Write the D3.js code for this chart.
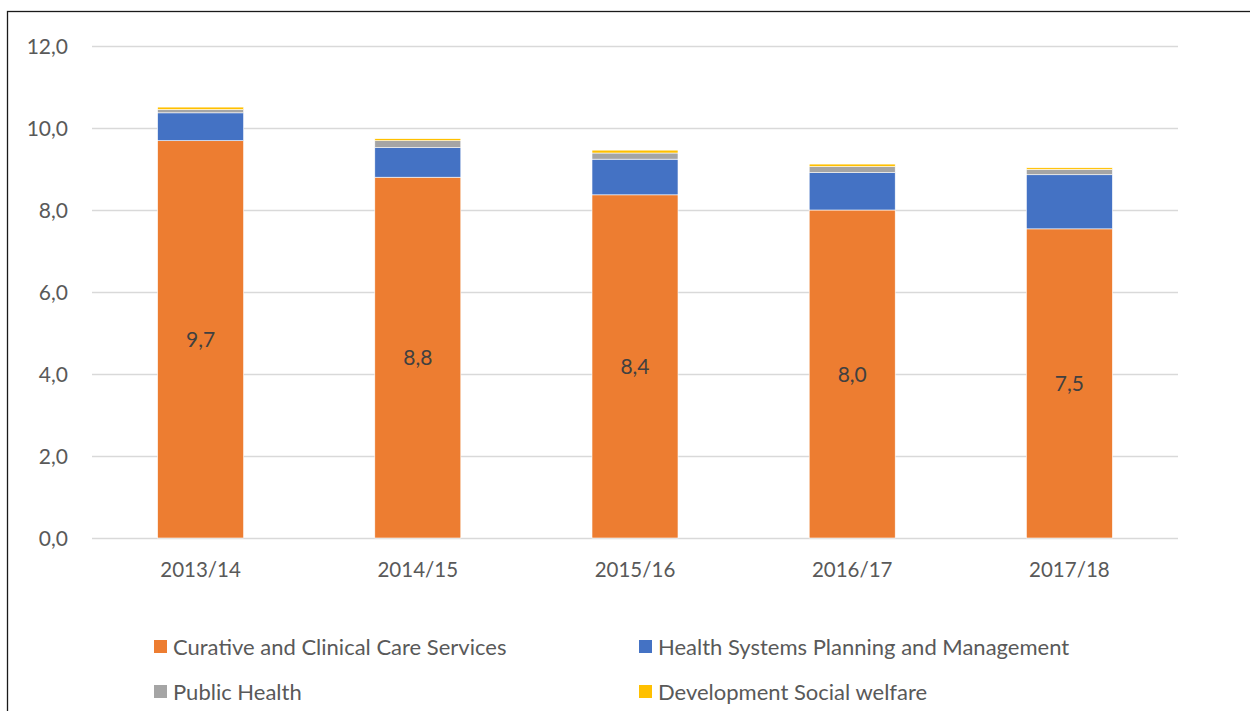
<!DOCTYPE html>
<html>
<head>
<meta charset="utf-8">
<script src="https://cdn.jsdelivr.net/npm/d3@7"></script>
<style>
  body { margin: 0; background: #fff; }
  svg text { font-family: Lato, 'Open Sans', sans-serif; }
</style>
</head>
<body>
<script>
// chart values
let years = ['2013/14', '2014/15', '2015/16', '2016/17', '2017/18']
let seriesNames = ['Curative and Clinical Care Services', 'Health Systems Planning and Management',
                   'Public Health', 'Development Social welfare']
let curative = [9.69, 8.80, 8.37, 8.00, 7.54]
let planning = [0.68, 0.72, 0.87, 0.91, 1.32]
let publicHealth = [0.08, 0.17, 0.15, 0.15, 0.13]
let welfare = [0.06, 0.05, 0.07, 0.06, 0.04]
let yTicks = [0, 2, 4, 6, 8, 10, 12]

let colors = ['#ED7D31', '#4472C4', '#A5A5A5', '#FFC000']

let margin = { top: 46, left: 92, right: 72, bottom: 173 }
let W = 1250, H = 711

let fmt = d3.formatLocale({ decimal: ',', thousands: '.', grouping: [3], currency: ['', ''] }).format('.1f')

let rows = years.map((y, i) => ({
    year: y,
    [seriesNames[0]]: curative[i],
    [seriesNames[1]]: planning[i],
    [seriesNames[2]]: publicHealth[i],
    [seriesNames[3]]: welfare[i]
}))

let stack = d3.stack().keys(seriesNames)(rows)

let x = d3.scaleBand()
    .domain(years)
    .range([margin.left, W - margin.right])
    .paddingInner(0.604)
    .paddingOuter(0.302)

let y = d3.scaleLinear()
    .domain([0, 12])
    .range([H - margin.bottom, margin.top])

let svg = d3.select('body').append('svg')
    .attr('width', W)
    .attr('height', H)

// chart frame (runs off the right and bottom of the picture)
svg.append('rect')
    .attr('x', 7.5).attr('y', 11.5)
    .attr('width', W + 20).attr('height', H + 20)
    .attr('fill', 'none')
    .attr('stroke', '#1a1a1a')
    .attr('stroke-width', 1.3)

// gridlines
svg.append('g')
    .selectAll('line')
    .data(yTicks)
    .enter().append('line')
    .attr('x1', margin.left).attr('x2', W - margin.right)
    .attr('y1', d => Math.round(y(d)) + 0.5).attr('y2', d => Math.round(y(d)) + 0.5)
    .attr('stroke', '#D9D9D9')
    .attr('stroke-width', 1.5)

// y tick labels
svg.append('g')
    .selectAll('text')
    .data(yTicks)
    .enter().append('text')
    .attr('x', 68)
    .attr('y', d => y(d))
    .attr('dy', '0.36em')
    .attr('text-anchor', 'end')
    .attr('fill', '#595959')
    .style('font-size', '21px')
    .text(d => fmt(d))

// stacked bars
svg.append('g')
    .selectAll('g')
    .data(stack)
    .enter().append('g')
    .attr('fill', (d, i) => colors[i])
    .selectAll('rect')
    .data(d => d)
    .enter().append('rect')
    .attr('x', d => x(d.data.year))
    .attr('width', x.bandwidth())
    .attr('y', d => y(d[1]))
    .attr('height', d => y(d[0]) - y(d[1]))
    .attr('stroke', '#fff')
    .attr('stroke-width', 0.6)

// data labels on the curative segment
svg.append('g')
    .selectAll('text')
    .data(stack[0])
    .enter().append('text')
    .attr('x', d => x(d.data.year) + x.bandwidth() / 2)
    .attr('y', d => (y(d[0]) + y(d[1])) / 2)
    .attr('dy', '0.36em')
    .attr('text-anchor', 'middle')
    .attr('fill', '#404040')
    .style('font-size', '21px')
    .text(d => fmt(d[1] - d[0]))

// category labels
svg.append('g')
    .selectAll('text')
    .data(years)
    .enter().append('text')
    .attr('x', d => x(d) + x.bandwidth() / 2)
    .attr('y', 577)
    .attr('text-anchor', 'middle')
    .attr('fill', '#595959')
    .style('font-size', '20.5px')
    .text(d => d)

// legend, two columns
let legendPos = [[154, 640], [639, 640], [154, 685], [639, 685]]
let legend = svg.append('g')
    .selectAll('g')
    .data(seriesNames)
    .enter().append('g')
    .attr('transform', (d, i) => 'translate(' + legendPos[i][0] + ',' + legendPos[i][1] + ')')

legend.append('rect')
    .attr('width', 13).attr('height', 13)
    .attr('fill', (d, i) => colors[i])

legend.append('text')
    .attr('x', 19)
    .attr('y', 15)
    .attr('fill', '#595959')
    .style('font-size', '22px')
    .text(d => d)
</script>
</body>
</html>
